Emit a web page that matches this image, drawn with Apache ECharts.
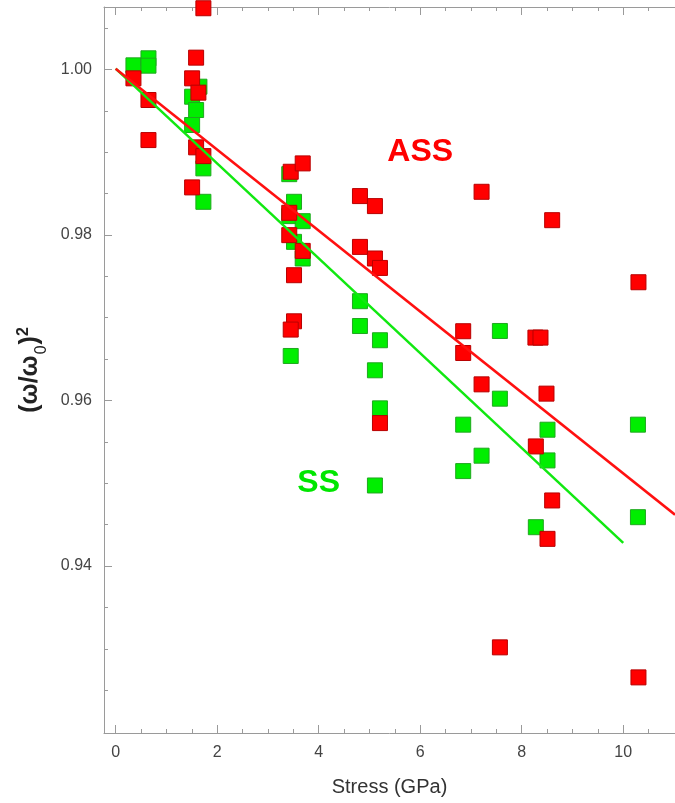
<!DOCTYPE html>
<html><head><meta charset="utf-8">
<script src="https://cdn.jsdelivr.net/npm/echarts@6/dist/echarts.min.js"></script>
<style>html,body{margin:0;padding:0;background:#fff}#c{width:675px;height:803px}</style>
</head><body><div id="c"></div>
<script>
// SS (green) measurements: [stress GPa, (w/w0)^2]
const ssData = [
  [0.35, 1.0005], [0.646, 1.00135], [0.646, 1.00046],
  [1.506, 0.99671], [1.65, 0.99792], [1.585, 0.9951], [1.506, 0.99329],
  [1.728, 0.98805], [1.728, 0.98401],
  [3.42, 0.98735], [3.514, 0.98401], [3.42, 0.98228], [3.685, 0.98167],
  [3.514, 0.97917], [3.685, 0.97716], [3.449, 0.96538],
  [4.813, 0.972], [4.813, 0.969], [5.207, 0.96728], [5.108, 0.96365],
  [5.207, 0.95905], [5.108, 0.94973],
  [6.847, 0.95708], [6.847, 0.95147], [7.209, 0.95333],
  [7.57, 0.9684], [7.57, 0.96022],
  [8.278, 0.94469], [8.508, 0.95647], [8.508, 0.95276],
  [10.29, 0.95708], [10.29, 0.9459]
];
// ASS (red) measurements
const assData = [
  [0.35, 0.99893], [0.646, 0.99631], [0.646, 0.99147],
  [1.585, 1.00143], [1.506, 0.99893], [1.63, 0.9972], [1.585, 0.99059],
  [1.728, 0.98953], [1.506, 0.98575], [1.728, 1.0074],
  [3.449, 0.98764], [3.685, 0.98865], [3.42, 0.98268], [3.42, 0.97998],
  [3.685, 0.97808], [3.514, 0.97514], [3.514, 0.96957], [3.449, 0.96857],
  [4.813, 0.9847], [5.108, 0.98349], [4.813, 0.97856], [5.108, 0.97716],
  [5.207, 0.97602], [5.207, 0.95727],
  [6.847, 0.96837], [6.847, 0.96574], [7.209, 0.98522], [7.209, 0.96195],
  [7.57, 0.93017],
  [8.27, 0.9676], [8.37, 0.9676], [8.278, 0.95445], [8.488, 0.96083],
  [8.60, 0.98179], [8.60, 0.94792], [8.508, 0.94328],
  [10.30, 0.97429], [10.30, 0.92654]
];
// Linear fits
const ssFit = [[0, 1.0001], [10, 0.9428]];
const assFit = [[0, 1.0001], [11.02, 0.9462]];
// Ticks
const xMajorTicks = [0, 2, 4, 6, 8, 10];
const xMinorTicks = [0.5, 1, 1.5, 2.5, 3, 3.5, 4.5, 5, 5.5, 6.5, 7, 7.5, 8.5, 9, 9.5, 10.5];
const yMajorTicks = [0.94, 0.96, 0.98, 1.00];
const yMinorTicks = [0.925, 0.93, 0.935, 0.945, 0.95, 0.955, 0.965, 0.97, 0.975, 0.985, 0.99, 0.995, 1.005];
// Annotations
const annotations = [
  { name: 'ASS', value: [6, 0.990], color: '#ff0000' },
  { name: 'SS', value: [4, 0.950], color: '#00e600' }
];

const XMIN = -0.23, XMAX = 11.02, YMIN = 0.91982, YMAX = 1.00755;
const AX = '#9a9a9a';
const FONT = '"Liberation Sans", Arial, sans-serif';

function xAxisDef(pos, ticks, len, showLine, showLabel) {
  return {
    type: 'value', position: pos, min: XMIN, max: XMAX,
    axisLine: { show: showLine, onZero: false, lineStyle: { color: AX, width: 1 } },
    axisTick: { show: true, inside: true, length: len, customValues: ticks, lineStyle: { color: AX } },
    axisLabel: showLabel ? { show: true, customValues: ticks, fontSize: 16, color: '#444', fontFamily: FONT, margin: 12 } : { show: false },
    splitLine: { show: false }
  };
}
function yAxisDef(pos, ticks, len, showLine, showLabel) {
  return {
    type: 'value', position: pos, min: YMIN, max: YMAX,
    axisLine: { show: showLine, onZero: false, lineStyle: { color: AX, width: 1 } },
    axisTick: { show: true, inside: true, length: len, customValues: ticks, lineStyle: { color: AX } },
    axisLabel: showLabel ? { show: true, customValues: ticks, fontSize: 16, color: '#444', fontFamily: FONT, margin: 12, formatter: v => v.toFixed(2) } : { show: false },
    splitLine: { show: false }
  };
}

const xMain = xAxisDef('bottom', xMajorTicks, 8, true, true);
xMain.name = 'Stress (GPa)';
xMain.nameLocation = 'middle';
xMain.nameGap = 44;
xMain.nameTextStyle = { fontSize: 20, color: '#333', fontFamily: FONT };
const yMain = yAxisDef('left', yMajorTicks, 8, true, true);
yMain.name = '{a|(ω/ω}{s|0}{a|)}{p|2}';
yMain.nameLocation = 'middle';
yMain.nameRotate = 90;
yMain.nameGap = 52;
yMain.nameTextStyle = {
  color: '#222', fontFamily: FONT,
  rich: {
    a: { fontSize: 25, fontWeight: 'bold', color: '#222', fontFamily: FONT, lineHeight: 40, verticalAlign: 'middle' },
    s: { fontSize: 16, color: '#222', fontFamily: FONT, lineHeight: 40, verticalAlign: 'bottom', padding: [0, 1, 0, 1] },
    p: { fontSize: 16, fontWeight: 'bold', color: '#222', fontFamily: FONT, lineHeight: 40, verticalAlign: 'top', padding: [6, 0, 0, 0] }
  }
};

const chart = echarts.init(document.getElementById('c'), null, { renderer: 'canvas' });
chart.setOption({
  animation: false,
  backgroundColor: '#fff',
  grid: { left: 104, right: 0, top: 7, bottom: 70, containLabel: false, outerBoundsMode: 'none' },
  xAxis: [
    xMain,
    xAxisDef('bottom', xMinorTicks, 4, false, false),
    xAxisDef('top', xMajorTicks, 8, true, false),
    xAxisDef('top', xMinorTicks, 4, false, false)
  ],
  yAxis: [
    yMain,
    yAxisDef('left', yMinorTicks, 4, false, false)
  ],
  series: [
    {
      type: 'scatter', name: 'SS', data: ssData, symbol: 'rect', symbolSize: 15, clip: true,
      itemStyle: { color: '#00ee00', borderColor: '#1fa81f', borderWidth: 1, opacity: 1 }, z: 2
    },
    {
      type: 'scatter', name: 'ASS', data: assData, symbol: 'rect', symbolSize: 15, clip: true,
      itemStyle: { color: '#ff0000', borderColor: '#b80000', borderWidth: 1, opacity: 1 }, z: 3
    },
    {
      type: 'line', name: 'SS fit', data: ssFit, showSymbol: false, clip: true,
      lineStyle: { color: '#11e811', width: 2.5 }, z: 4
    },
    {
      type: 'line', name: 'ASS fit', data: assFit, showSymbol: false, clip: true,
      lineStyle: { color: '#ff1010', width: 2.5 }, z: 4
    },
    {
      type: 'scatter', name: 'labels', symbolSize: 0, z: 5,
      itemStyle: { opacity: 1 },
      data: annotations.map(a => ({ name: a.name, value: a.value,
        label: { show: true, position: 'inside', formatter: '{b}', color: a.color, fontSize: 32, fontWeight: 'bold', fontFamily: FONT, textBorderWidth: 0, opacity: 1 } }))
    }
  ]
});
</script></body></html>
